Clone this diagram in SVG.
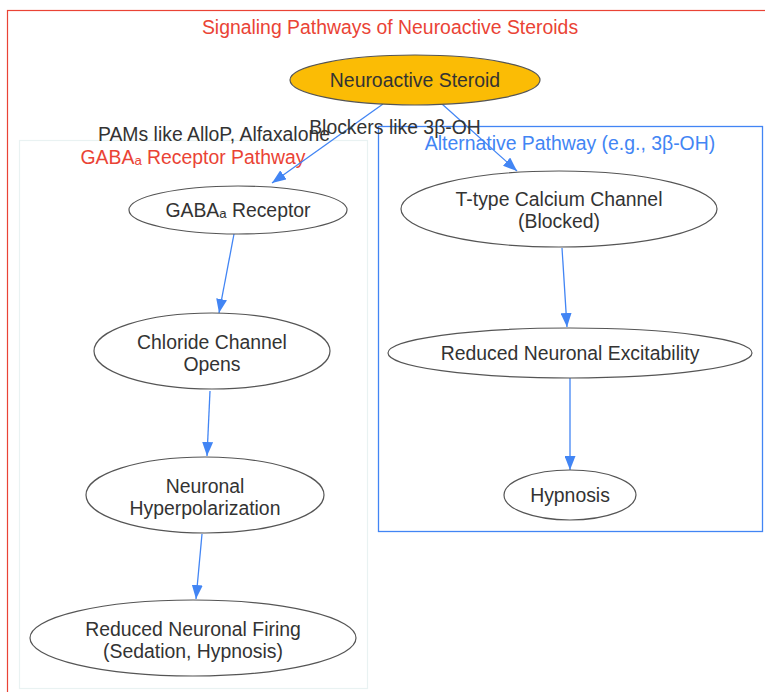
<svg xmlns="http://www.w3.org/2000/svg" width="765" height="692" viewBox="0 0 765 692">
<defs>
<style>
text{font-family:"Liberation Sans",Arial,sans-serif;font-size:19.4px;text-anchor:middle;fill:#333}
.node ellipse{fill:#fff;stroke:#555;stroke-width:1.2}
.edge{stroke:#4285F4;stroke-width:1.3;fill:none;marker-end:url(#ah)}
.title{fill:#EA4335}
.blue{fill:#4285F4}
</style>
<marker id="ah" viewBox="0 0 14 11" markerUnits="userSpaceOnUse" markerWidth="14" markerHeight="11" refX="14" refY="5.5" orient="auto">
<path d="M0,0 L14,5.5 L0,11 z" fill="#4285F4"/>
</marker>
</defs>
<rect width="765" height="692" fill="#fff"/>
<g id="outer">
<rect x="7.5" y="10.5" width="770" height="700" fill="none" stroke="#EA4335" stroke-width="1.2"/>
<text class="title" x="390" y="34">Signaling Pathways of Neuroactive Steroids</text>
</g>
<g id="cluster-gaba">
<rect x="19.5" y="140.5" width="348" height="548" fill="none" stroke="#e9f2f2" stroke-width="1.2"/>
<text class="title" x="193" y="164">GABAₐ Receptor Pathway</text>
</g>
<g id="cluster-alt">
<rect x="378.5" y="126.5" width="384" height="405" fill="none" stroke="#4285F4" stroke-width="1.3"/>
<text class="blue" x="570" y="150">Alternative Pathway (e.g., 3β-OH)</text>
</g>
<g id="edges">
<path class="edge" d="M383,104 L272,183"/>
<path class="edge" d="M442,104 L517,171"/>
<path class="edge" d="M234,234 L219,313"/>
<path class="edge" d="M210,391 L207,456"/>
<path class="edge" d="M202,534 L196,599"/>
<path class="edge" d="M562,248 L567,327"/>
<path class="edge" d="M570,378 L570,470"/>
<text x="214" y="141">PAMs like AlloP, Alfaxalone</text>
<text x="395" y="134">Blockers like 3β-OH</text>
</g>
<g id="n-steroid" class="node">
<ellipse cx="415" cy="80" rx="125" ry="25" style="fill:#FBBC05"/>
<text x="415" y="87">Neuroactive Steroid</text>
</g>
<g id="n-gaba" class="node">
<ellipse cx="238" cy="210" rx="109" ry="24"/>
<text x="238" y="217">GABAₐ Receptor</text>
</g>
<g id="n-chloride" class="node">
<ellipse cx="212" cy="351" rx="118" ry="38"/>
<text x="212" y="349">Chloride Channel</text>
<text x="212" y="371">Opens</text>
</g>
<g id="n-hyper" class="node">
<ellipse cx="205" cy="495" rx="119" ry="38"/>
<text x="205" y="493">Neuronal</text>
<text x="205" y="515">Hyperpolarization</text>
</g>
<g id="n-firing" class="node">
<ellipse cx="193" cy="638" rx="163" ry="38"/>
<text x="193" y="636">Reduced Neuronal Firing</text>
<text x="193" y="658">(Sedation, Hypnosis)</text>
</g>
<g id="n-ttype" class="node">
<ellipse cx="559" cy="209" rx="158" ry="38"/>
<text x="559" y="206">T-type Calcium Channel</text>
<text x="559" y="228">(Blocked)</text>
</g>
<g id="n-excit" class="node">
<ellipse cx="570" cy="353" rx="182" ry="25"/>
<text x="570" y="360">Reduced Neuronal Excitability</text>
</g>
<g id="n-hypnosis" class="node">
<ellipse cx="570" cy="495" rx="66" ry="25"/>
<text x="570" y="502">Hypnosis</text>
</g>
</svg>
